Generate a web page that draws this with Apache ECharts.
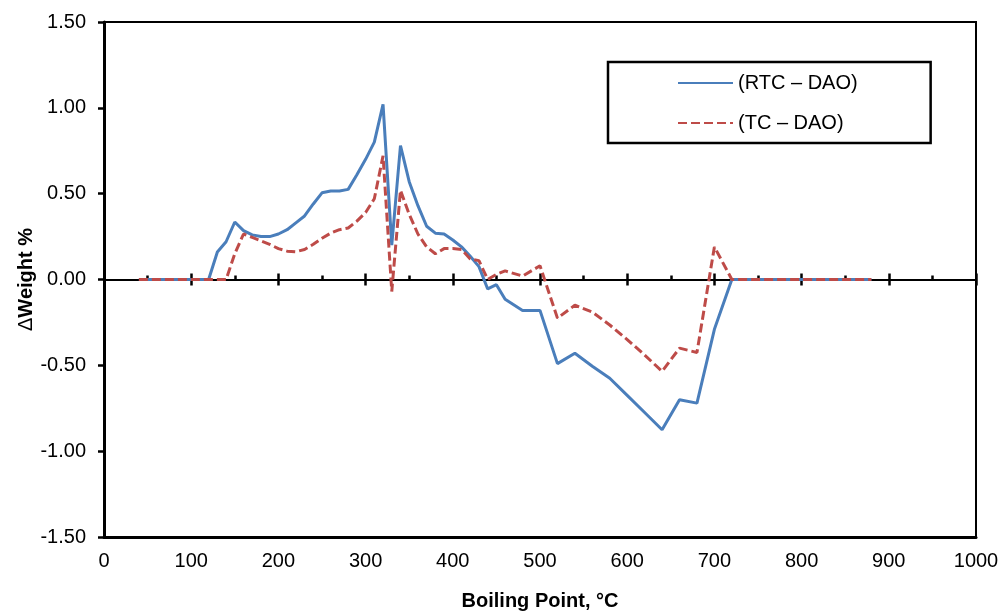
<!DOCTYPE html>
<html>
<head>
<meta charset="utf-8">
<title>ΔWeight % vs Boiling Point</title>
<script src="https://cdn.jsdelivr.net/npm/echarts@6/dist/echarts.min.js"></script>
<style>
  html, body { margin: 0; padding: 0; background: #fff; }
  #chart { width: 1000px; height: 611px; }
</style>
</head>
<body>
<div id="chart"></div>
<script>
// Boiling point, °C
const boilingPoint = [40, 50, 60, 70, 80, 90, 100, 110, 120, 130, 140, 150, 160, 170, 180, 190,
  200, 210, 220, 230, 240, 250, 260, 270, 280, 290, 300, 310, 320, 330, 340, 350, 360, 370,
  380, 390, 400, 410, 420, 430, 440, 450, 460, 480, 500, 520, 540, 560, 580, 600, 620, 640,
  660, 680, 700, 720, 740, 760, 780, 800, 820, 840, 860, 880];

// ΔWeight %, RTC minus DAO
const rtcMinusDao = [0, 0, 0, 0, 0, 0, 0, 0, 0, 0.16, 0.22, 0.335, 0.285, 0.26, 0.25, 0.25,
  0.265, 0.29, 0.33, 0.37, 0.44, 0.505, 0.515, 0.515, 0.525, 0.61, 0.70, 0.80, 1.02, 0.20, 0.78, 0.57, 0.43, 0.31,
  0.27, 0.265, 0.23, 0.19, 0.135, 0.075, -0.055, -0.03, -0.115, -0.18, -0.18, -0.49, -0.43, -0.505, -0.575, -0.675, -0.775, -0.875,
  -0.70, -0.72, -0.29, 0, 0, 0, 0, 0, 0, 0, 0, 0];

// ΔWeight %, TC minus DAO
const tcMinusDao = [0, 0, 0, 0, 0, 0, 0, 0, 0, 0, 0, 0.15, 0.265, 0.245, 0.225, 0.205,
  0.18, 0.165, 0.162, 0.175, 0.205, 0.24, 0.27, 0.29, 0.30, 0.34, 0.39, 0.47, 0.72, -0.07, 0.52, 0.38, 0.265, 0.19,
  0.15, 0.18, 0.18, 0.175, 0.12, 0.11, 0.0, 0.03, 0.05, 0.02, 0.08, -0.225, -0.15, -0.19, -0.265, -0.35, -0.44, -0.535,
  -0.40, -0.425, 0.19, 0, 0, 0, 0, 0, 0, 0, 0, 0];

const seriesNames = ['(RTC \u2013 DAO)', '(TC \u2013 DAO)'];
const xTitle = 'Boiling Point, \u00b0C';

const FONT = '"Liberation Sans", Arial, Helvetica, sans-serif';
const pairs = (xs, ys) => xs.map((x, i) => [x, ys[i]]);

const chart = echarts.init(document.getElementById('chart'), null, { renderer: 'canvas' });

const baseX = {
  type: 'value', min: 0, max: 1000, interval: 100,
  splitLine: { show: false }
};

chart.setOption({
  animation: false,
  backgroundColor: '#fff',
  textStyle: { fontFamily: FONT },
  grid: {
    left: 104, right: 24, top: 22, bottom: 74,
    outerBoundsMode: 'none',
    containLabel: false,
    show: true, borderColor: '#000', borderWidth: 2, backgroundColor: 'transparent'
  },
  legend: {
    orient: 'vertical',
    left: 608, top: 62,
    padding: [11, 73, 10, 69],
    itemGap: 20,
    itemWidth: 55, itemHeight: 20,
    itemStyle: { opacity: 0 },
    borderColor: '#000', borderWidth: 2.5,
    backgroundColor: '#fff',
    textStyle: { fontFamily: FONT, fontSize: 20, color: '#000' },
    data: seriesNames
  },
  xAxis: [
    Object.assign({}, baseX, {
      position: 'bottom',
      axisLine: { onZero: false, lineStyle: { color: '#000', width: 3 } },
      axisTick: { show: false },
      axisLabel: { fontFamily: FONT, fontSize: 20, color: '#000', margin: 14, formatter: v => String(v) },
      name: xTitle,
      nameLocation: 'middle',
      nameGap: 54,
      nameTextStyle: { fontFamily: FONT, fontSize: 20, fontWeight: 'bold', color: '#000' }
    }),
    Object.assign({}, baseX, {
      position: 'bottom',
      axisLine: { onZero: true, onZeroAxisIndex: 0, lineStyle: { color: '#000', width: 2 } },
      axisTick: { show: true, inside: false, length: 6, lineStyle: { color: '#000', width: 2.5 } },
      axisLabel: { show: false }
    }),
    Object.assign({}, baseX, {
      position: 'bottom',
      axisLine: { onZero: true, onZeroAxisIndex: 0, lineStyle: { color: '#000', width: 2 } },
      axisTick: { show: true, inside: true, length: 6, lineStyle: { color: '#000', width: 2.5 } },
      minorTick: { show: true, splitNumber: 2, length: 4, lineStyle: { color: '#000', width: 2.5 } },
      axisLabel: { show: false }
    })
  ],
  yAxis: {
    type: 'value', min: -1.5, max: 1.5, interval: 0.5,
    axisLine: { show: true, onZero: false, lineStyle: { color: '#000', width: 3 } },
    axisTick: { show: true, inside: false, length: 6, lineStyle: { color: '#000', width: 2.5 } },
    splitLine: { show: false },
    axisLabel: {
      fontFamily: FONT, fontSize: 20, color: '#000', margin: 18,
      formatter: v => v.toFixed(2)
    },
    name: '{d|\u0394}{b|Weight %}',
    nameLocation: 'middle',
    nameRotate: 90,
    nameGap: 68,
    nameMoveOverlap: false,
    nameTextStyle: {
      rich: {
        d: { fontFamily: FONT, fontSize: 20, fontWeight: 'normal', color: '#000' },
        b: { fontFamily: FONT, fontSize: 20, fontWeight: 'bold', color: '#000' }
      }
    }
  },
  series: [
    {
      name: seriesNames[0], type: 'line', xAxisIndex: 0,
      data: pairs(boilingPoint, rtcMinusDao),
      symbol: 'none',
      lineStyle: { color: '#4a7ebb', width: 3 },
      itemStyle: { color: '#4a7ebb' },
      z: 3
    },
    {
      name: seriesNames[1], type: 'line', xAxisIndex: 0,
      data: pairs(boilingPoint, tcMinusDao),
      symbol: 'none',
      lineStyle: { color: '#be4b48', width: 3, type: [9, 4] },
      itemStyle: { color: '#be4b48' },
      z: 4
    }
  ]
});
</script>
</body>
</html>
